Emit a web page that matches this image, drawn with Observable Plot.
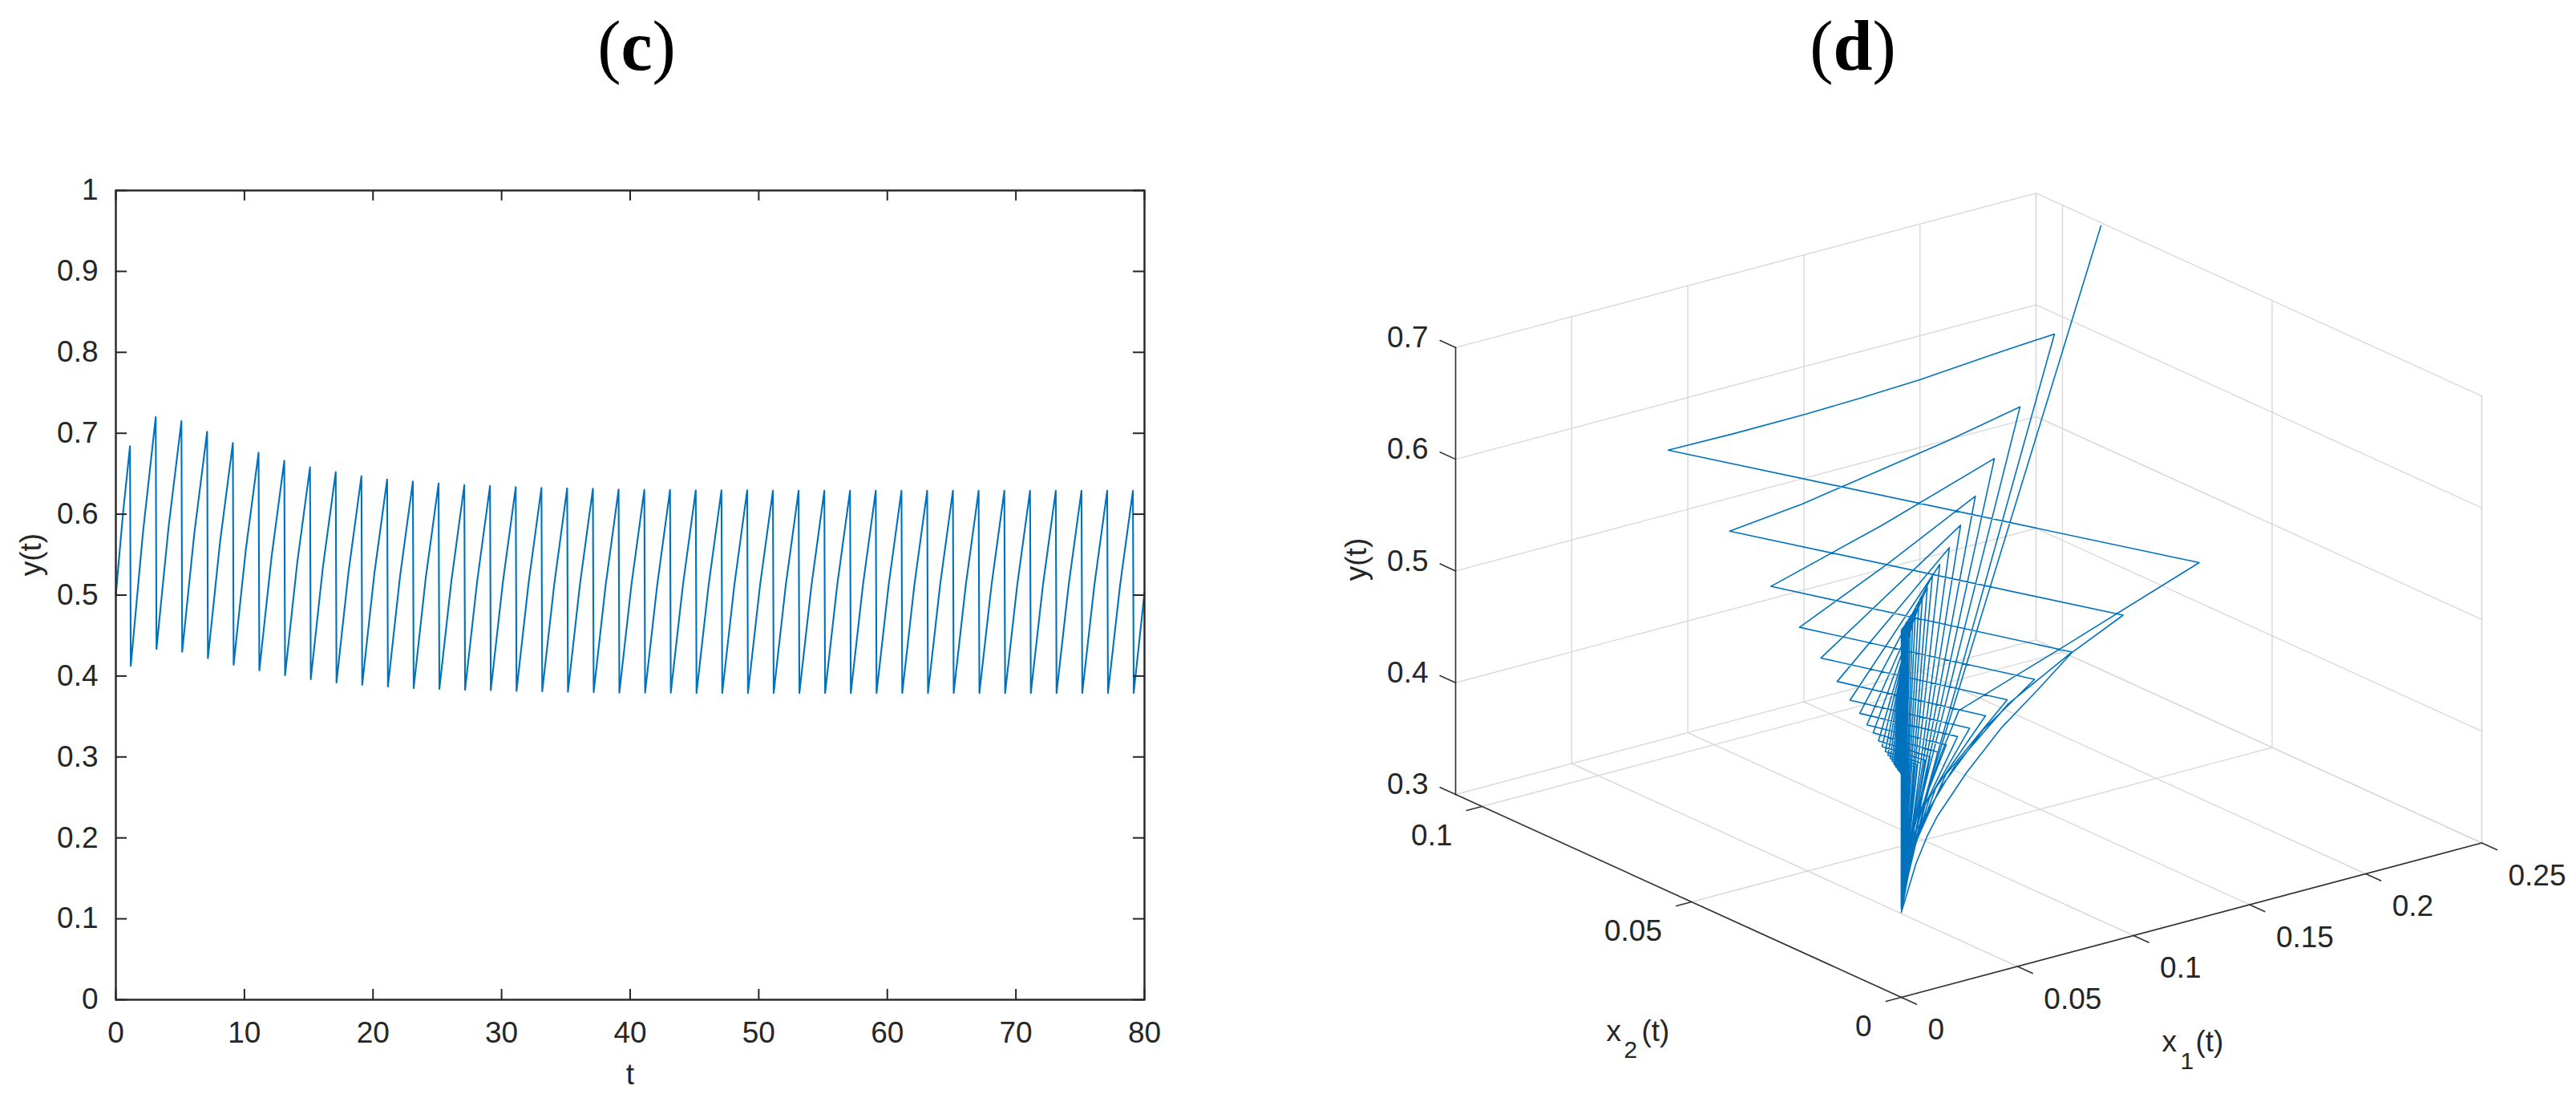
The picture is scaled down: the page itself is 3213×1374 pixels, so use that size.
<!DOCTYPE html>
<html>
<head>
<meta charset="utf-8">
<script src="https://cdn.jsdelivr.net/npm/d3@7"></script>
<script src="https://cdn.jsdelivr.net/npm/@observablehq/plot@0.6"></script>
<style>
html,body{margin:0;padding:0;background:#fff;}
#page{position:relative;width:3213px;height:1374px;overflow:hidden;background:#fff;}
.title{position:absolute;top:10px;width:400px;text-align:center;font-family:"Liberation Serif",serif;font-size:88px;line-height:96px;color:#000;}
.title b{font-weight:700;}
#c{position:absolute;left:0;top:130px;}
#d{position:absolute;left:1600px;top:130px;}
svg{display:block;overflow:visible;max-width:none;}
</style>
</head>
<body>
<div id="page">
<div class="title" style="left:594px">(<b>c</b>)</div>
<div class="title" style="left:2111px">(<b>d</b>)</div>
<div id="c"></div>
<div id="d"></div>
</div>
<script>
// ---------- shared series ----------
const startT = [0, 0.55];
const startY = [0.5, 0.6];
const toothTime = [1.1,3.1,5.1,7.1,9.1,11.1,13.1,15.1,17.1,19.1,21.1,23.1,25.1,27.1,29.1,31.1,33.1,35.1,37.1,39.1,41.1,43.1,45.1,47.1,49.1,51.1,53.1,55.1,57.1,59.1,61.1,63.1,65.1,67.1,69.1,71.1,73.1,75.1,77.1,79.1];
const peak = [0.684,0.72,0.715,0.702,0.688,0.676,0.666,0.658,0.652,0.647,0.643,0.6405,0.638,0.636,0.635,0.6335,0.6325,0.632,0.6315,0.6305,0.63,0.63,0.6295,0.6295,0.6295,0.629,0.629,0.629,0.629,0.629,0.629,0.629,0.629,0.629,0.629,0.629,0.629,0.629,0.629,0.629];
const trough = [0.4125,0.4335,0.43,0.422,0.414,0.407,0.401,0.396,0.392,0.389,0.387,0.385,0.384,0.383,0.3825,0.3815,0.381,0.3805,0.38,0.3795,0.3795,0.3795,0.379,0.379,0.379,0.379,0.379,0.379,0.379,0.379,0.379,0.379,0.379,0.379,0.379,0.379,0.379,0.379,0.379,0.379];
const midRise = [0.576,0.584,0.576,0.565,0.555,0.546,0.539,0.534,0.529,0.526,0.523,0.521,0.518,0.517,0.516,0.515,0.514,0.514,0.513,0.513,0.512,0.512,0.512,0.512,0.512,0.512,0.512,0.512,0.512,0.512,0.512,0.512,0.512,0.512,0.512,0.512,0.512,0.512,0.512,0.503];
const tTicks = [0,10,20,30,40,50,60,70,80];
const yTicksC = [0,0.1,0.2,0.3,0.4,0.5,0.6,0.7,0.8,0.9,1];

// ---------- 3-D trajectory of panel (d) ----------
const tipX1 = [0.2588,0.1575,0.108,0.0789,0.0606,0.0472,0.0375,0.0301,0.0253,0.0204,0.0165,0.0135,0.011,0.009,0.0073,0.006,0.0049,0.004,0.0033,0.0027,0.0022,0.0018,0.0015,0.0012,0.001,0.0008,0.0007,0.0006,0.0005,0.0004,0.0003,0.00026,0.00022,0.00018,0.00015,0.00012,0.0001,0.00008,0.00006,0.00005];
const tipX2 = [0.0957,0.0507,0.0315,0.0215,0.0159,0.012,0.0093,0.0075,0.0066,0.0051,0.0041,0.0033,0.0027,0.0022,0.0018,0.0015,0.0012,0.001,0.0008,0.00066,0.00055,0.00045,0.00037,0.0003,0.00025,0.0002,0.00017,0.00014,0.00012,0.0001,0.00008,0.00007,0.00006,0.00005,0.00004,0.00003,0.00003,0.00002,0.00002,0.00001];
const dropX1 = [0.02,0.0169,0.0116,0.0084,0.0065,0.005,0.004,0.0032,0.0027,0.0022,0.0018,0.0015,0.0012,0.001,0.0008,0.0007,0.0005,0.0004,0.0003,0.0003,0.0002,0.0002,0.0002,0.0002,0.0002,0.00015,0.00015,0.00015,0.00015,0.00015,0.0001,0.0001,0.0001,0.0001,0.0001,0.00005,0.00005,0.00005,0.00005,0.00005];
const dropX2 = [0.0086,0.0056,0.0039,0.0028,0.0022,0.0017,0.0013,0.0011,0.0009,0.0007,0.0006,0.0005,0.0004,0.0003,0.0003,0.0002,0.0002,0.0001,0.0001,0.0001,0.00005,0.00005,0.00005,0.00005,0.00005,0.00005,0.00005,0.00005,0.00005,0.00005,0.00005,0.00005,0.00005,0.00005,0.00005,0.00005,0.00005,0.00005,0.00005,0.00005];
const rightX1 = [0.1738,0.1284,0.0991,0.076,0.0597,0.0469,0.0372,0.0309,0.0242,0.0189,0.0147,0.012,0.0098,0.008,0.0065,0.0053,0.0043,0.0035,0.0029,0.0024,0.002,0.0016,0.0013,0.001,0.0008,0.0007,0.0005,0.0004,0.0003,0.00025,0.0002,0.00016,0.00013,0.0001,0.00008,0.00006,0.00005,0.00004,0.00003,0.00002];
const rightX2 = [0.0252,0.0182,0.0142,0.0103,0.0078,0.0059,0.0043,0.0037,0.0027,0.0018,0.0013,0.001,0.0008,0.0007,0.0006,0.0005,0.0004,0.0003,0.00025,0.0002,0.00017,0.00014,0.00011,0.00009,0.00007,0.00006,0.00005,0.00004,0.00003,0.00002,0.00002,0.00001,0.00001,0.00001,0.00001,0.00001,0.00001,0.00001,0.00001,0.00001];
const pulseY = [0.55,0.54,0.53,0.525,0.52,0.516,0.513,0.51,0.508,0.506,0.505,0.504,0.503,0.5025,0.502,0.5015,0.501,0.5008,0.5006,0.5005,0.5004,0.5003,0.5002,0.5002,0.5001,0.5001,0.5001,0.5001,0.5,0.5,0.5,0.5,0.5,0.5,0.5,0.5,0.5,0.5,0.5,0.5];
const leftX1 = [0.0966,0.0716,0.0565,0.0432,0.034,0.0271,0.0214,0.0182,0.0146,0.013,0.0102,0.0085,0.007,0.0058,0.0048,0.004,0.0033,0.0027,0.0022,0.0018,0.0015,0.0012,0.001,0.0008,0.0007,0.0006,0.0005,0.0004,0.0003,0.00025,0.0002,0.00016,0.00013,0.0001,0.00008,0.00006,0.00005,0.00004,0.00003];
const leftX2 = [0.1091,0.0806,0.0624,0.0482,0.038,0.0303,0.0241,0.02,0.0163,0.0139,0.0111,0.0093,0.0077,0.0064,0.0053,0.0044,0.0036,0.003,0.0025,0.002,0.0017,0.0014,0.0011,0.0009,0.0008,0.0006,0.0005,0.0004,0.0003,0.00028,0.00022,0.00018,0.00014,0.00011,0.00009,0.00007,0.00005,0.00004,0.00003];
// extra readings along the curved stretches
const riseCycle = [0,0,0,0, 1,1,1,1,1,1,1,1, 2,2,3,3,4,5,6,7,8];
const riseX1 = [0.0293,0.0423,0.0535,0.0994, 0,0.01164,0.02,0.03,0.0497,0.0703,0.0912,0.1097, 0.0462,0.0707,0.0368,0.0553,0.0385,0.0343,0.033,0.0262,0.0273];
const riseX2 = [0.0107,0.014,0.0159,0.0166, 0,0.003,0.005,0.008,0.012,0.015,0.018,0.02, 0.0128,0.0137,0.0108,0.0111,0.0107,0.0108,0.0116,0.0091,0.0109];
const riseY = [0.44,0.47,0.5,0.53, 0.376,0.4076,0.424,0.432,0.453,0.477,0.494,0.514, 0.46,0.5,0.45,0.49,0.46,0.45,0.44,0.44,0.43];
const bendCycle = [0,0,0,0,0,1,1,1,2,3];
const bendX1 = [0.1043,0.1216,0.1237,0.1336,0.1461,0.0741,0.0862,0.0977,0.0633,0.0478];
const bendX2 = [0.0977,0.0904,0.078,0.0696,0.057,0.0647,0.054,0.0432,0.0396,0.0299];
const bendY = [0.58,0.6,0.635,0.66,0.7,0.59,0.63,0.67,0.62,0.61];

const x1Ticks = [0,0.05,0.1,0.15,0.2,0.25];
const x2Ticks = [0,0.05,0.1];
const yTicksD = [0.3,0.4,0.5,0.6,0.7];
const x1Lim = [0,0.25];
const x2Lim = [0,0.1063];
const yLim = [0.3,0.7];

const INK = "#262626", BLUE = "#0072BD", FONT = '"Liberation Sans",Arial,sans-serif';

// ---------- panel (c) ----------
const series = startT.map((t,i)=>({t,y:startY[i]}));
toothTime.forEach((t,k)=>{
  series.push({t,y:peak[k]});
  series.push({t:t+0.06,y:trough[k]});
  series.push({t:t+1,y:midRise[k]});
});
series[series.length-1].t = 80;

const panelC = Plot.plot({
  width:1600,height:1244,
  marginLeft:144,marginRight:173,marginTop:107,marginBottom:128,
  style:{background:"#fff",fontFamily:FONT},
  x:{domain:[0,80],axis:null},
  y:{domain:[0,1],axis:null},
  marks:[
    Plot.line(series,{x:"t",y:"y",stroke:BLUE,strokeWidth:2.1,strokeLinejoin:"round"}),
    Plot.ruleX(tTicks,{stroke:INK,strokeWidth:2,insetTop:1009-13}),
    Plot.ruleX(tTicks,{stroke:INK,strokeWidth:2,insetBottom:1009-13}),
    Plot.ruleY(yTicksC,{stroke:INK,strokeWidth:2,insetRight:1283-14}),
    Plot.ruleY(yTicksC,{stroke:INK,strokeWidth:2,insetLeft:1283-14}),
    Plot.frame({stroke:INK,strokeWidth:2.4}),
    Plot.axisX(tTicks,{anchor:"bottom",tickSize:0,tickPadding:27,fontSize:37,color:INK,label:null,tickFormat:d=>String(d)}),
    Plot.axisY(yTicksC,{anchor:"left",tickSize:0,tickPadding:22,fontSize:37,color:INK,label:null,tickFormat:d=>String(d)}),
    Plot.text(["t"],{x:()=>40,frameAnchor:"bottom",dy:105,text:d=>d,fontSize:37,fill:INK}),
    Plot.text(["y(t)"],{x:()=>-6.55,y:()=>0.55,text:d=>d,rotate:-90,fontSize:37,fill:INK})
  ]
});
document.getElementById("c").appendChild(panelC);

// ---------- panel (d) : a fixed 3-D view, projected through the x/y scales ----------
const view = {ox:2371,oy:1243,x1:[2896,-770],x2:[-5230,-2380],y:-1393,y0:0.3};
const sx = p => view.ox + view.x1[0]*p.x1 + view.x2[0]*p.x2;
const sy = p => view.oy + view.x1[1]*p.x1 + view.x2[1]*p.x2 + view.y*(p.y-view.y0);

const path = [];
toothTime.forEach((_,k)=>{
  path.push({x1:tipX1[k],x2:tipX2[k],y:peak[k]});
  path.push({x1:dropX1[k],x2:dropX2[k],y:trough[k]});
  riseCycle.forEach((c,i)=>{ if(c===k) path.push({x1:riseX1[i],x2:riseX2[i],y:riseY[i]}); });
  path.push({x1:rightX1[k],x2:rightX2[k],y:pulseY[k]});
  if(k<leftX1.length){
    path.push({x1:leftX1[k],x2:leftX2[k],y:pulseY[k]});
    bendCycle.forEach((c,i)=>{ if(c===k) path.push({x1:bendX1[i],x2:bendX2[i],y:bendY[i]}); });
  }
});

const [a0,a1]=x1Lim,[b0,b1]=x2Lim,[c0,c1]=yLim;
const segs=[];
const seg=(list,id,p,q)=>{list.push({id,...p});list.push({id,...q});};
let n=0;
x1Ticks.forEach(t=>{ seg(segs,n++,{x1:t,x2:b0,y:c0},{x1:t,x2:b1,y:c0}); seg(segs,n++,{x1:t,x2:b1,y:c0},{x1:t,x2:b1,y:c1}); });
x2Ticks.forEach(t=>{ seg(segs,n++,{x1:a0,x2:t,y:c0},{x1:a1,x2:t,y:c0}); seg(segs,n++,{x1:a1,x2:t,y:c0},{x1:a1,x2:t,y:c1}); });
yTicksD.forEach(t=>{ seg(segs,n++,{x1:a0,x2:b1,y:t},{x1:a1,x2:b1,y:t}); seg(segs,n++,{x1:a1,x2:b1,y:t},{x1:a1,x2:b0,y:t}); });
seg(segs,n++,{x1:a1,x2:b1,y:c0},{x1:a1,x2:b1,y:c1});
seg(segs,n++,{x1:a1,x2:b0,y:c0},{x1:a1,x2:b0,y:c1});

const axes=[];
let m=0;
seg(axes,m++,{x1:a0,x2:b1,y:c0},{x1:a0,x2:b1,y:c1});
seg(axes,m++,{x1:a0,x2:b1,y:c0},{x1:a0,x2:b0,y:c0});
seg(axes,m++,{x1:a0,x2:b0,y:c0},{x1:a1,x2:b0,y:c0});
yTicksD.forEach(t=>seg(axes,m++,{x1:a0,x2:b1,y:t},{x1:a0,x2:b1+0.0037,y:t}));
x2Ticks.forEach(t=>seg(axes,m++,{x1:a0,x2:t,y:c0},{x1:-0.0066,x2:t,y:c0}));
x1Ticks.forEach(t=>seg(axes,m++,{x1:t,x2:b0,y:c0},{x1:t,x2:-0.0036,y:c0}));

const lab = {fontSize:37,fill:INK,text:"s"};
const panelD = Plot.plot({
  width:1613,height:1244,margin:0,
  style:{background:"transparent",fontFamily:FONT},
  x:{domain:[1600,3213],range:[0,1613],axis:null},
  y:{domain:[130,1374],range:[0,1244],axis:null},
  marks:[
    Plot.line(segs,{x:sx,y:sy,z:"id",stroke:"#d9d9d9",strokeWidth:1.4}),
    Plot.line(path,{x:sx,y:sy,stroke:BLUE,strokeWidth:1.6,strokeLinejoin:"round"}),
    Plot.line(axes,{x:sx,y:sy,z:"id",stroke:"#333",strokeWidth:1.6}),
    Plot.text(yTicksD.map(t=>({x1:a0,x2:b1,y:t,s:String(t)})),{...lab,x:sx,y:sy,dx:-34,dy:-12,textAnchor:"end"}),
    Plot.text(x2Ticks.map(t=>({x1:a0,x2:t,y:c0,s:String(t)})),{...lab,x:sx,y:sy,dx:-37,dy:37,textAnchor:"end"}),
    Plot.text(x1Ticks.map(t=>({x1:t,x2:b0,y:c0,s:String(t)})),{...lab,x:sx,y:sy,dx:33,dy:41,textAnchor:"start"}),
    Plot.text([{s:"y(t)"}],{...lab,x:()=>1692,y:()=>697,rotate:-90}),
    Plot.text([{s:"x"}],{...lab,x:()=>2696,y:()=>1310,textAnchor:"start",lineAnchor:"bottom"}),
    Plot.text([{s:"1"}],{...lab,fontSize:30,x:()=>2719,y:()=>1332,textAnchor:"start",lineAnchor:"bottom"}),
    Plot.text([{s:"(t)"}],{...lab,x:()=>2738,y:()=>1310,textAnchor:"start",lineAnchor:"bottom"}),
    Plot.text([{s:"x"}],{...lab,x:()=>2003,y:()=>1297,textAnchor:"start",lineAnchor:"bottom"}),
    Plot.text([{s:"2"}],{...lab,fontSize:30,x:()=>2025,y:()=>1318,textAnchor:"start",lineAnchor:"bottom"}),
    Plot.text([{s:"(t)"}],{...lab,x:()=>2047,y:()=>1297,textAnchor:"start",lineAnchor:"bottom"})
  ]
});
document.getElementById("d").appendChild(panelD);
</script>
</body>
</html>
